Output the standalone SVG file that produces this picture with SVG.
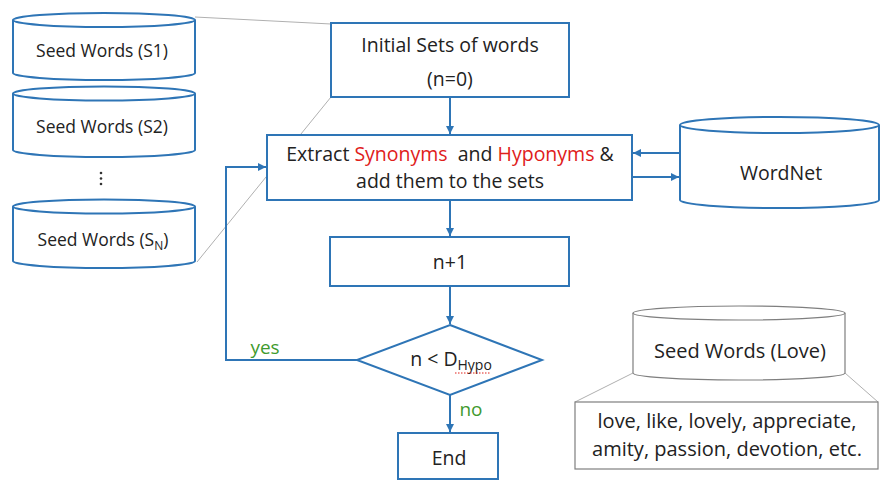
<svg xmlns="http://www.w3.org/2000/svg" width="881" height="481" viewBox="0 0 881 481">
  <style>
    .shape { fill: #ffffff; stroke: #2e75b6; stroke-width: 2; }
    .thin { fill: #ffffff; stroke: #7f7f7f; stroke-width: 1.2; }
    .guide { fill: none; stroke: #b0b0b0; stroke-width: 1; }
    .flow { fill: none; stroke: #2e75b6; stroke-width: 2; }
    text { font-family: "Open Sans", "Liberation Sans", sans-serif; fill: #222222; text-anchor: middle; }
    .t { font-size: 19.5px; }
    .s { font-size: 17.5px; }
    .l { font-size: 20px; }
    .red { fill: #e0201b; }
    .green { fill: #3f9a2f; font-size: 19px; }
  </style>
  <defs>
    <marker id="arrow" viewBox="0 0 10 10" refX="10" refY="5" markerWidth="4" markerHeight="4" orient="auto" markerUnits="strokeWidth">
      <path d="M0,0 L10,5 L0,10 z" fill="#2e75b6"/>
    </marker>
  </defs>

  <rect width="881" height="481" fill="#ffffff"/>

  <!-- zoom guide lines -->
  <g id="guides">
    <line class="guide" x1="195" y1="17" x2="331" y2="24"/>
    <line class="guide" x1="331" y1="97" x2="197" y2="262"/>
    <line class="guide" x1="633" y1="373" x2="575" y2="402"/>
    <line class="guide" x1="845" y1="373" x2="878" y2="402"/>
  </g>

  <!-- seed word stores -->
  <g id="seed-s1">
    <path class="shape" d="M13,20 L13,73 A91,7 0 0 0 195,73 L195,20"/>
    <ellipse class="shape" cx="104" cy="20" rx="91" ry="7"/>
    <text class="s" x="102" y="57">Seed Words (S1)</text>
  </g>
  <g id="seed-s2">
    <path class="shape" d="M13,93.5 L13,150 A91,7 0 0 0 195,150 L195,93.5"/>
    <ellipse class="shape" cx="104" cy="93.5" rx="91" ry="7"/>
    <text class="s" x="102" y="133">Seed Words (S2)</text>
  </g>
  <g id="ellipsis">
    <circle cx="101" cy="173" r="1.3" fill="#333"/>
    <circle cx="101" cy="178.5" r="1.3" fill="#333"/>
    <circle cx="101" cy="184" r="1.3" fill="#333"/>
  </g>
  <g id="seed-sn">
    <path class="shape" d="M13,206.5 L13,261 A91,7 0 0 0 195,261 L195,206.5"/>
    <ellipse class="shape" cx="104" cy="206.5" rx="91" ry="7"/>
    <text class="s" x="103" y="246">Seed Words (S<tspan font-size="12" dy="4">N</tspan><tspan dy="-4">)</tspan></text>
  </g>

  <!-- process nodes -->
  <g id="initial">
    <rect class="shape" x="331" y="23" width="238" height="74"/>
    <text class="t" x="450" y="52">Initial Sets of words</text>
    <text class="t" x="450" y="86">(n=0)</text>
  </g>
  <g id="extract">
    <rect class="shape" x="267" y="135" width="365" height="65"/>
    <text class="t" x="450" y="161" xml:space="preserve">Extract <tspan class="red">Synonyms</tspan>  and <tspan class="red">Hyponyms</tspan> &amp;</text>
    <text class="t" x="450" y="188">add them to the sets</text>
  </g>
  <g id="wordnet">
    <path class="shape" d="M680,125 L680,200 A99.5,8 0 0 0 879,200 L879,125"/>
    <ellipse class="shape" cx="779.5" cy="125" rx="99.5" ry="8"/>
    <text class="t" x="781" y="180">WordNet</text>
  </g>
  <g id="increment">
    <rect class="shape" x="330" y="237" width="239" height="49"/>
    <text class="t" x="450" y="269">n+1</text>
  </g>
  <g id="decision">
    <polygon class="shape" points="450,325 542,360 450,395 357,360"/>
    <text class="t" x="451" y="366">n &lt; D<tspan font-size="14" dy="4">Hypo</tspan></text>
    <line x1="455" y1="373" x2="491" y2="373" stroke="#e0201b" stroke-width="1" stroke-dasharray="1.5,1.5"/>
  </g>
  <g id="end">
    <rect class="shape" x="398" y="433" width="100" height="46"/>
    <text class="t" x="449" y="465">End</text>
  </g>

  <!-- example store -->
  <g id="seed-love">
    <path class="thin" d="M633,313 L633,373 A106,7 0 0 0 845,373 L845,313"/>
    <ellipse class="thin" cx="739" cy="313" rx="106" ry="7"/>
    <text class="l" x="740" y="358">Seed Words (Love)</text>
  </g>
  <g id="love-words">
    <rect class="thin" x="575" y="402" width="303" height="67"/>
    <text class="l" x="727" y="428">love, like, lovely, appreciate,</text>
    <text class="l" x="727" y="456">amity, passion, devotion, etc.</text>
  </g>

  <!-- connectors -->
  <g id="connectors">
    <line class="flow" x1="450" y1="97" x2="450" y2="134" marker-end="url(#arrow)"/>
    <line class="flow" x1="680" y1="153" x2="633" y2="153" marker-end="url(#arrow)"/>
    <line class="flow" x1="632" y1="177" x2="679" y2="177" marker-end="url(#arrow)"/>
    <line class="flow" x1="450" y1="200" x2="450" y2="236" marker-end="url(#arrow)"/>
    <line class="flow" x1="450" y1="286" x2="450" y2="324" marker-end="url(#arrow)"/>
    <polyline class="flow" points="357,360 226,360 226,167 266,167" marker-end="url(#arrow)"/>
    <line class="flow" x1="450" y1="395" x2="450" y2="432" marker-end="url(#arrow)"/>
    <text class="green" x="265" y="354">yes</text>
    <text class="green" x="471" y="416">no</text>
  </g>
</svg>
